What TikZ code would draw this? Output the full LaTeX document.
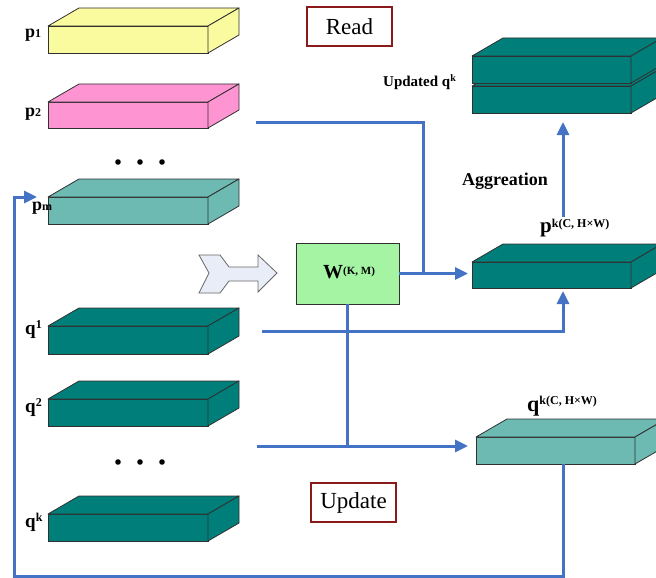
\documentclass[tikz,border=0pt]{standalone}
\usepackage{fontspec}
\setmainfont{Liberation Serif}
\usetikzlibrary{arrows.meta}
\definecolor{blu}{HTML}{4472C4}
\definecolor{edge}{HTML}{303030}
\definecolor{tagred}{HTML}{8B1A1A}
\definecolor{yel}{HTML}{FAFA9E}
\definecolor{pnk}{HTML}{FF94D2}
\definecolor{lteal}{HTML}{6CBAB2}
\definecolor{teal}{HTML}{007F7A}
\definecolor{wgrn}{HTML}{A4F4A4}
\definecolor{hollow}{HTML}{E8EDF7}
\newcommand\slabbox[6]{%
  \node[draw=edge, fill=#6, line width=.8pt, minimum width=#4pt, minimum height=#5pt,
        inner sep=0, outer sep=0, anchor=north west] (#1) at (#2,#3) {};
  \filldraw[fill=#6, draw=edge, line width=.8pt, line join=round]
    (#1.north west) -- ++(31,-18) -- ++(#4,0) -- (#1.north east) -- cycle;
  \filldraw[fill=#6, draw=edge, line width=.8pt, line join=round]
    (#1.north east) -- ++(31,-18) -- ++(0,#5) -- (#1.south east) -- cycle;
}
\begin{document}
\begin{tikzpicture}[x=1pt,y=-1pt,
  conn/.style={draw=blu, line width=3pt},
  arr/.style={conn, -{Triangle[length=13pt,width=12pt]}},
  lbl/.style={inner sep=0, anchor=base west, font=\bfseries},
  tagbox/.style={draw=tagred, line width=1.3pt, minimum width=85pt, minimum height=39pt, inner sep=0}]
\useasboundingbox (0,0) rectangle (656,578);
\clip (0,0) rectangle (656,578);

% left column slabs
\slabbox{p1}{48}{26}{160}{27}{yel}
\slabbox{p2}{48}{102}{160}{26}{pnk}
\slabbox{pm}{48}{197}{160}{27}{lteal}
\slabbox{q1}{48}{326}{160}{28}{teal}
\slabbox{q2}{48}{399}{160}{27}{teal}
\slabbox{qk}{48}{514}{160}{27}{teal}

% right column slabs
\slabbox{upd2}{472}{86}{159}{27}{teal}
\slabbox{upd1}{472}{56}{159}{27}{teal}
\slabbox{pk}{472}{262}{159}{26}{teal}
\slabbox{qkc}{476}{437}{159}{27}{lteal}

% dots
\foreach \xx in {118,140,162} {
  \fill (\xx,162) circle (2.8pt);
  \fill (\xx,462) circle (2.8pt);
}

% labels
\node[lbl] (lp1) at (25,38) {\fontsize{18}{18}\selectfont p{\fontsize{12}{12}\selectfont 1}};
\node[lbl] (lp2) at (25,116) {\fontsize{18}{18}\selectfont p{\fontsize{12}{12}\selectfont 2}};
\node[lbl] (lpm) at (32,210) {\fontsize{18}{18}\selectfont p{\fontsize{12}{12}\selectfont m}};
\node[lbl] (lq1) at (25,334) {\fontsize{19}{19}\selectfont q\raisebox{6pt}{\fontsize{12}{12}\selectfont 1}};
\node[lbl] (lq2) at (25,412) {\fontsize{19}{19}\selectfont q\raisebox{6pt}{\fontsize{12}{12}\selectfont 2}};
\node[lbl] (lqk) at (25,527) {\fontsize{19}{19}\selectfont q\raisebox{6pt}{\fontsize{12}{12}\selectfont k}};
\node[lbl] (lupd) at (383,86) {\fontsize{15}{15}\selectfont Updated q\raisebox{5pt}{\fontsize{10}{10}\selectfont k}};
\node[lbl] (lagg) at (462,185) {\fontsize{18}{18}\selectfont Aggreation};
\node[lbl] (lpk) at (540,232) {\fontsize{21}{21}\selectfont p\raisebox{5pt}{\fontsize{12}{12}\selectfont k(C, H×W)}};
\node[lbl] (lqkc) at (527,411) {\fontsize{22}{22}\selectfont q\raisebox{7pt}{\fontsize{12}{12}\selectfont k(C, H×W)}};

% Read / Update tags
\node[tagbox] (read) at (349.5,26.5) {\fontsize{23}{23}\selectfont Read};
\node[tagbox] (update) at (353.5,502.5) {\fontsize{23}{23}\selectfont Update};

% W box
\node[draw=edge, fill=wgrn, line width=.8pt, minimum width=103pt, minimum height=61pt, inner sep=0] (W) at (347.5,273.5) {};
\node[lbl] (lW) at (323,278) {\fontsize{20}{20}\selectfont W\raisebox{4pt}{\fontsize{11}{11}\selectfont (K, M)}};

% hollow arrow
\filldraw[fill=hollow, draw=gray!80!black, line width=.8pt, line join=miter]
  (199,255) -- (220,255) -- (229,267) -- (258,267) -- (258,255) -- (277,273)
  -- (258,292) -- (258,281) -- (229,281) -- (220,293) -- (199,293) -- (209,273) -- cycle;

% connectors
\coordinate (p2o) at (256,122);
\coordinate (rj) at (423,273.5);
\draw[conn] (p2o) -| (rj);
\draw[arr, shorten >=4pt] (W.east) -- (W.east -| pk.west);

\coordinate (q1o) at (262,331);
\draw[arr, shorten >=3pt] (q1o) -| ([xshift=11.5pt]pk.south);

\coordinate (qo) at (257,446);
\draw[conn] (W.south) -- (W.south |- qo);
\draw[arr, shorten >=8pt] (qo) -- (qo -| qkc.west);

\coordinate (ag0) at (563,217);
\draw[arr, shorten >=9pt] (ag0) -- (ag0 |- upd2.south);

\coordinate (loopbl) at (14,576);
\coordinate (pmin) at (37,197);
\draw[arr] ([xshift=7.5pt]qkc.south) |- (loopbl) |- (pmin);
\end{tikzpicture}
\end{document}
